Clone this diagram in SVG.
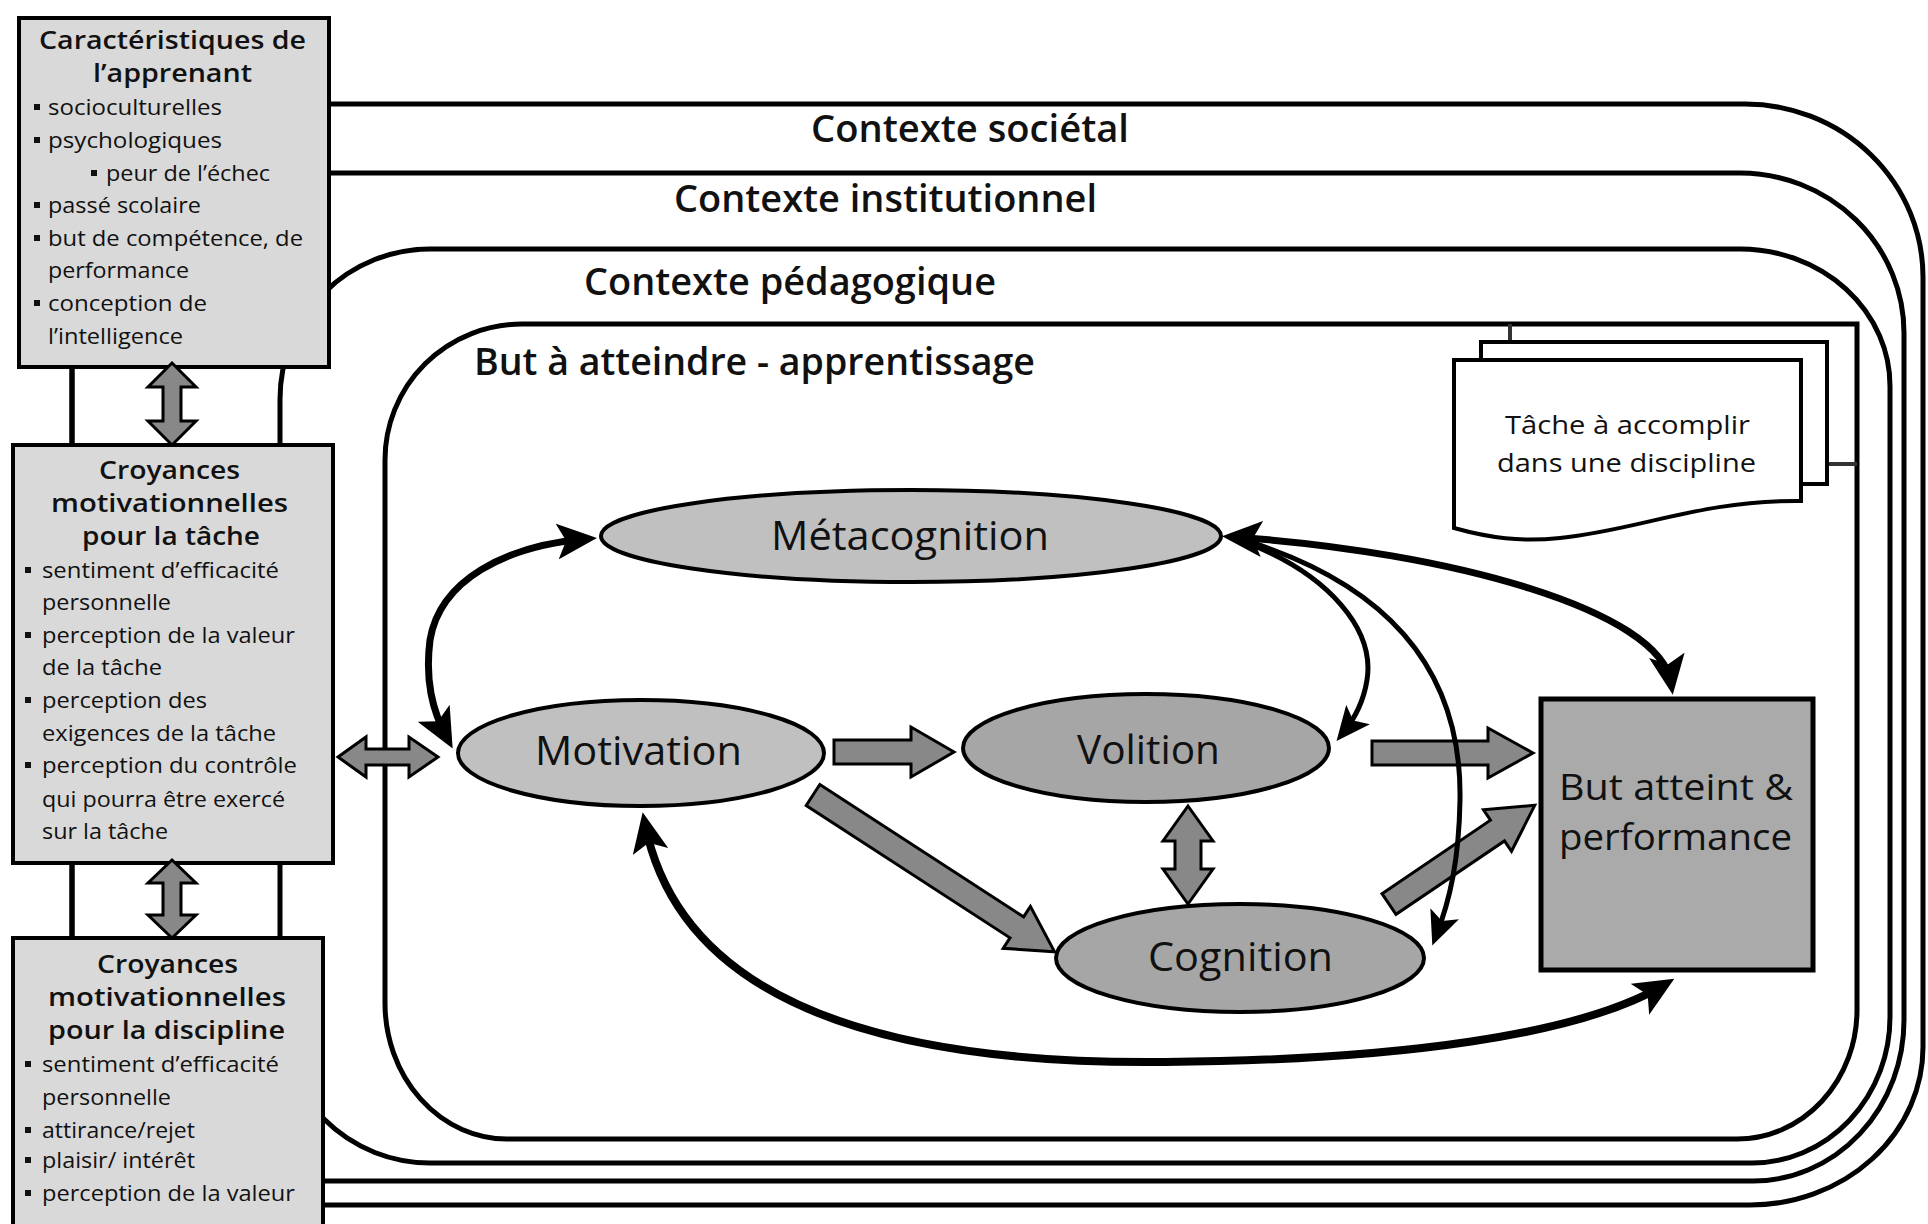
<svg xmlns="http://www.w3.org/2000/svg" width="1928" height="1224" viewBox="0 0 1928 1224">
<style>
  .frame{fill:none;stroke:#000;stroke-width:5}
  .box{fill:#d9d9d9;stroke:#000;stroke-width:4}
  .hdr{font-family:"Open Sans","Liberation Sans",sans-serif;font-size:26px;font-weight:600;fill:#111}
  .bul{font-family:"Open Sans","Liberation Sans",sans-serif;font-size:21px;fill:#111}
  .ctx{font-family:"Open Sans","Liberation Sans",sans-serif;font-size:37px;font-weight:600;fill:#111}
  .nlab{font-family:"Open Sans","Liberation Sans",sans-serif;font-size:40px;fill:#111}
  .tlab{font-family:"Open Sans","Liberation Sans",sans-serif;font-size:26px;fill:#111}
  .ell1{fill:#c0c0c0;stroke:#000;stroke-width:4}
  .ell2{fill:#a6a6a6;stroke:#000;stroke-width:4}
  .blk{fill:#888;stroke:#000;stroke-width:3;stroke-linejoin:miter}
  .cur{fill:none;stroke:#000;stroke-linecap:butt}
  .page{fill:#fff;stroke:#000;stroke-width:4}
  .dot{fill:#111}
</style>
<defs>
  <marker id="ah" viewBox="0 0 40 36" refX="28" refY="18" markerWidth="40" markerHeight="36" markerUnits="userSpaceOnUse" orient="auto-start-reverse">
    <path d="M0,0 L40,18 L0,36 L9,18 Z" fill="#000"/>
  </marker>
  <marker id="ahs" viewBox="0 0 40 36" refX="28" refY="18" markerWidth="34" markerHeight="31" markerUnits="userSpaceOnUse" orient="auto-start-reverse">
    <path d="M0,0 L40,18 L0,36 L9,18 Z" fill="#000"/>
  </marker>
</defs>
<rect width="1928" height="1224" fill="#fff"/>

<g id="contexts">
  <g id="contexte-societal">
    <path class="frame" d="M72,104 H1745 A178,173 0 0 1 1923,277 V1047 A173,158 0 0 1 1750,1205 H72 Z"/>
    <text class="ctx" x="811" y="142" textLength="318" lengthAdjust="spacingAndGlyphs">Contexte sociétal</text>
  </g>
  <g id="contexte-institutionnel">
    <path class="frame" d="M72,173 H1740 A164,160 0 0 1 1904,333 V1020 A151,161 0 0 1 1753,1181 H72 Z"/>
    <text class="ctx" x="674" y="212" textLength="423" lengthAdjust="spacingAndGlyphs">Contexte institutionnel</text>
  </g>
  <g id="contexte-pedagogique">
    <path class="frame" d="M280,399 A150,150 0 0 1 430,249 H1740 A150,137 0 0 1 1890,386 V1017 A138,146 0 0 1 1752,1163 H430 A150,150 0 0 1 280,1013 Z"/>
    <text class="ctx" x="584" y="295" textLength="412" lengthAdjust="spacingAndGlyphs">Contexte pédagogique</text>
  </g>
  <g id="but-apprentissage">
    <path class="frame" d="M385,460 A137,136 0 0 1 522,324 H1857 V1010 A120,129 0 0 1 1737,1139 H507 A122,136 0 0 1 385,1003 Z"/>
    <text class="ctx" x="474" y="375" textLength="561" lengthAdjust="spacingAndGlyphs">But à atteindre - apprentissage</text>
  </g>
</g>

<g id="tache">
  <path d="M1510,324 V464 H1857" fill="none" stroke="#333" stroke-width="4"/>
  <rect class="page" x="1481" y="342" width="346" height="142"/>
  <path class="page" d="M1454,360 H1801 V501 C1700,500 1640,530 1560,538 C1520,542 1490,538 1454,528 Z"/>
  <text class="tlab" x="1505" y="434" textLength="245" lengthAdjust="spacingAndGlyphs">Tâche à accomplir</text>
  <text class="tlab" x="1497" y="472" textLength="259" lengthAdjust="spacingAndGlyphs">dans une discipline</text>
</g>

<g id="caracteristiques-apprenant">
  <rect class="box" x="19" y="18" width="310" height="349"/>
  <text class="hdr" x="39" y="49" textLength="267" lengthAdjust="spacingAndGlyphs">Caractéristiques de</text>
  <text class="hdr" x="93" y="82" textLength="159" lengthAdjust="spacingAndGlyphs">l’apprenant</text>
  <rect class="dot" x="34" y="104" width="6" height="6"/>
  <text class="bul" x="48" y="115" textLength="174" lengthAdjust="spacingAndGlyphs">socioculturelles</text>
  <rect class="dot" x="34" y="137" width="6" height="6"/>
  <text class="bul" x="48" y="148" textLength="174" lengthAdjust="spacingAndGlyphs">psychologiques</text>
  <rect class="dot" x="91" y="170" width="6" height="6"/>
  <text class="bul" x="106" y="181" textLength="164" lengthAdjust="spacingAndGlyphs">peur de l’échec</text>
  <rect class="dot" x="34" y="202" width="6" height="6"/>
  <text class="bul" x="48" y="213" textLength="153" lengthAdjust="spacingAndGlyphs">passé scolaire</text>
  <rect class="dot" x="34" y="235" width="6" height="6"/>
  <text class="bul" x="48" y="246" textLength="255" lengthAdjust="spacingAndGlyphs">but de compétence, de</text>
  <text class="bul" x="48" y="278" textLength="141" lengthAdjust="spacingAndGlyphs">performance</text>
  <rect class="dot" x="34" y="300" width="6" height="6"/>
  <text class="bul" x="48" y="311" textLength="159" lengthAdjust="spacingAndGlyphs">conception de</text>
  <text class="bul" x="48" y="344" textLength="135" lengthAdjust="spacingAndGlyphs">l’intelligence</text>
</g>

<g id="croyances-tache">
  <rect class="box" x="13" y="445" width="320" height="418"/>
  <text class="hdr" x="99" y="479" textLength="141" lengthAdjust="spacingAndGlyphs">Croyances</text>
  <text class="hdr" x="51" y="512" textLength="237" lengthAdjust="spacingAndGlyphs">motivationnelles</text>
  <text class="hdr" x="82" y="545" textLength="178" lengthAdjust="spacingAndGlyphs">pour la tâche</text>
  <rect class="dot" x="25" y="567" width="6" height="6"/>
  <text class="bul" x="42" y="578" textLength="237" lengthAdjust="spacingAndGlyphs">sentiment d’efficacité</text>
  <text class="bul" x="42" y="610" textLength="129" lengthAdjust="spacingAndGlyphs">personnelle</text>
  <rect class="dot" x="25" y="632" width="6" height="6"/>
  <text class="bul" x="42" y="643" textLength="253" lengthAdjust="spacingAndGlyphs">perception de la valeur</text>
  <text class="bul" x="42" y="675" textLength="120" lengthAdjust="spacingAndGlyphs">de la tâche</text>
  <rect class="dot" x="25" y="697" width="6" height="6"/>
  <text class="bul" x="42" y="708" textLength="165" lengthAdjust="spacingAndGlyphs">perception des</text>
  <text class="bul" x="42" y="741" textLength="234" lengthAdjust="spacingAndGlyphs">exigences de la tâche</text>
  <rect class="dot" x="25" y="762" width="6" height="6"/>
  <text class="bul" x="42" y="773" textLength="255" lengthAdjust="spacingAndGlyphs">perception du contrôle</text>
  <text class="bul" x="42" y="807" textLength="243" lengthAdjust="spacingAndGlyphs">qui pourra être exercé</text>
  <text class="bul" x="42" y="839" textLength="126" lengthAdjust="spacingAndGlyphs">sur la tâche</text>
</g>

<g id="croyances-discipline">
  <rect class="box" x="13" y="938" width="310" height="300"/>
  <text class="hdr" x="97" y="973" textLength="141" lengthAdjust="spacingAndGlyphs">Croyances</text>
  <text class="hdr" x="48" y="1006" textLength="238" lengthAdjust="spacingAndGlyphs">motivationnelles</text>
  <text class="hdr" x="48" y="1039" textLength="237" lengthAdjust="spacingAndGlyphs">pour la discipline</text>
  <rect class="dot" x="25" y="1061" width="6" height="6"/>
  <text class="bul" x="42" y="1072" textLength="237" lengthAdjust="spacingAndGlyphs">sentiment d’efficacité</text>
  <text class="bul" x="42" y="1105" textLength="129" lengthAdjust="spacingAndGlyphs">personnelle</text>
  <rect class="dot" x="25" y="1127" width="6" height="6"/>
  <text class="bul" x="42" y="1138" textLength="153" lengthAdjust="spacingAndGlyphs">attirance/rejet</text>
  <rect class="dot" x="25" y="1157" width="6" height="6"/>
  <text class="bul" x="42" y="1168" textLength="153" lengthAdjust="spacingAndGlyphs">plaisir/ intérêt</text>
  <rect class="dot" x="25" y="1190" width="6" height="6"/>
  <text class="bul" x="42" y="1201" textLength="253" lengthAdjust="spacingAndGlyphs">perception de la valeur</text>
</g>

<g id="metacognition">
  <ellipse class="ell1" cx="911" cy="536" rx="310" ry="46"/>
  <text class="nlab" x="771" y="550" textLength="278" lengthAdjust="spacingAndGlyphs">Métacognition</text>
</g>
<g id="motivation">
  <ellipse class="ell1" cx="641" cy="753" rx="183" ry="53"/>
  <text class="nlab" x="535" y="765" textLength="207" lengthAdjust="spacingAndGlyphs">Motivation</text>
</g>
<g id="volition">
  <ellipse class="ell2" cx="1146" cy="748" rx="183" ry="54"/>
  <text class="nlab" x="1077" y="764" textLength="143" lengthAdjust="spacingAndGlyphs">Volition</text>
</g>
<g id="cognition">
  <ellipse class="ell2" cx="1240" cy="958" rx="184" ry="54"/>
  <text class="nlab" x="1148" y="971" textLength="185" lengthAdjust="spacingAndGlyphs">Cognition</text>
</g>
<g id="but-atteint">
  <rect x="1541" y="699" width="272" height="271" fill="#aaaaaa" stroke="#000" stroke-width="5"/>
  <text class="nlab" style="font-size:37px" x="1559" y="800" textLength="234" lengthAdjust="spacingAndGlyphs">But atteint &amp;</text>
  <text class="nlab" style="font-size:37px" x="1559" y="850" textLength="233" lengthAdjust="spacingAndGlyphs">performance</text>
</g>

<g id="connectors">
  <!-- gray block arrows -->
  <polygon class="blk" points="172,363 196,387 181,387 181,421 196,421 172,445 148,421 163,421 163,387 148,387"/>
  <polygon class="blk" points="172,860 196,883 181,883 181,915 196,915 172,938 148,915 163,915 163,883 148,883"/>
  <polygon class="blk" points="338,757 366,737 366,749 409,749 409,737 438,757 409,777 409,765 366,765 366,777"/>
  <polygon class="blk" points="834,740 911,740 911,727 954,752 911,777 911,764 834,764"/>
  <polygon class="blk" points="1372,741 1488,741 1488,728 1533,753 1488,778 1488,765 1372,765"/>
  <polygon class="blk" transform="translate(813,795) rotate(33)" points="0,-12.5 243,-12.5 243,-25 288,0 243,25 243,12.5 0,12.5"/>
  <polygon class="blk" transform="translate(1389,904) rotate(-34.1)" points="0,-12.5 131,-12.5 131,-25 176,0 131,25 131,12.5 0,12.5"/>
  <polygon class="blk" points="1188,806 1213,841 1201,841 1201,869 1213,869 1188,904 1163,869 1175,869 1175,841 1163,841"/>
  <!-- black curved arrows -->
  <path class="cur" stroke-width="7" marker-start="url(#ah)" marker-end="url(#ah)" d="M585,539 C505,546 440,580 430,640 C425,680 432,710 447,738"/>
  <path class="cur" stroke-width="5" marker-end="url(#ahs)" d="M1245,542 C1330,575 1375,630 1367,680 C1363,705 1352,722 1343,733"/>
  <path class="cur" stroke-width="5" marker-end="url(#ahs)" d="M1250,542 C1400,590 1462,680 1460,800 C1459,860 1450,900 1436,936"/>
  <path class="cur" stroke-width="7" marker-start="url(#ah)" marker-end="url(#ah)" d="M1234,537 C1450,552 1660,610 1671,683"/>
  <path class="cur" stroke-width="8" marker-start="url(#ah)" marker-end="url(#ah)" d="M645,824 C680,1000 880,1065 1165,1062 C1400,1060 1580,1035 1664,985"/>
</g>
</svg>
